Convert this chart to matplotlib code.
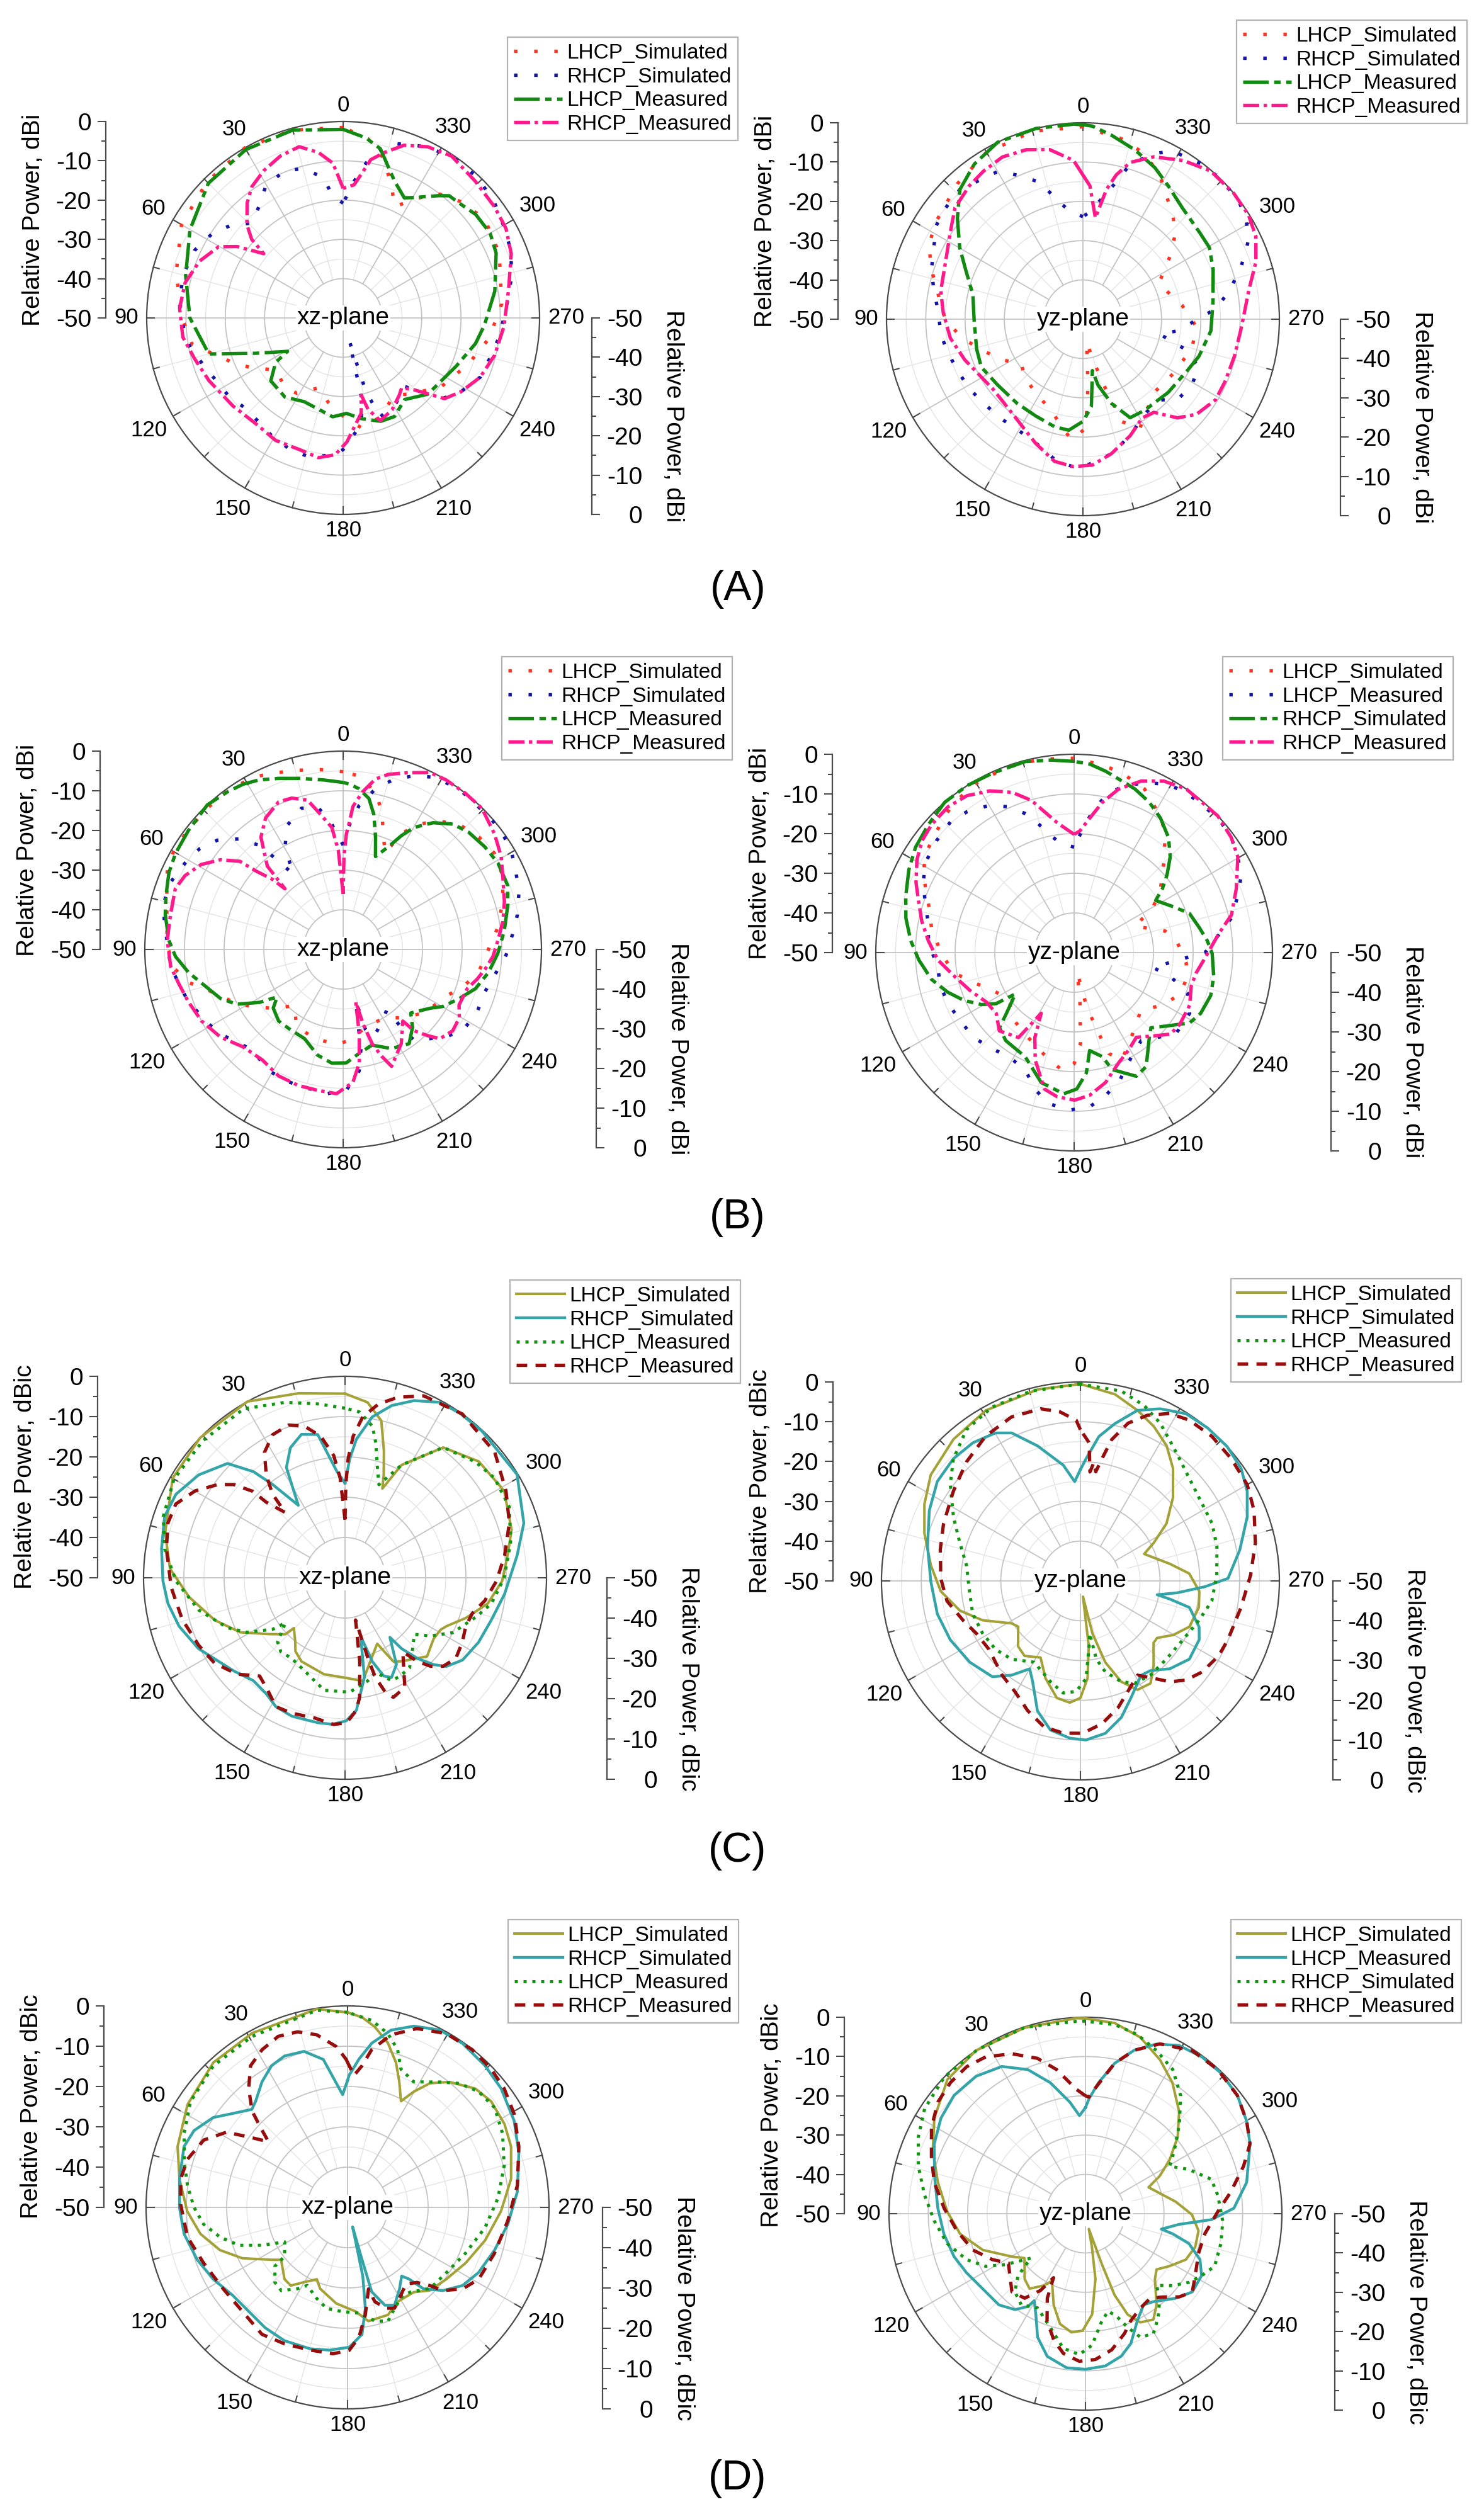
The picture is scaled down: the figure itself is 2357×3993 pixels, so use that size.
import numpy as np
import matplotlib
matplotlib.use("Agg")
import matplotlib.pyplot as plt
from matplotlib.lines import Line2D
from matplotlib.ticker import FixedLocator, FixedFormatter

plt.rcParams['font.family'] = ['Liberation Sans', 'DejaVu Sans']
plt.rcParams['axes.unicode_minus'] = False

W, H, DPI = 2357, 3993, 100

# ------------------------------------------------------------------
# DATA  (angle in degrees, relative power in dB)
# ------------------------------------------------------------------
LAB_STD = ['LHCP_Simulated', 'RHCP_Simulated', 'LHCP_Measured', 'RHCP_Measured']
LAB_ALT = ['LHCP_Simulated', 'LHCP_Measured', 'RHCP_Simulated', 'RHCP_Measured']
SECTION_LABELS = ['(A)', '(B)', '(C)', '(D)']
RADIAL_TICKS = [-50, -40, -30, -20, -10, 0]
ANGLE_TICKS = list(range(0, 360, 30))

# ---- (A) xz-plane ----
A_xz_lsim = [(0,-1.5),(15,-0.5),(30,0),(45,-1),(60,-2.5),(75,-6),(90,-9),(100,-11),(112,-19.7),
             (118.7,-23.5),(127.5,-28.3),(140,-27),(148.5,-27.5),(160.5,-31.1),(170,-28.2),(180,-25),
             (189.3,-21.7),(200,-23),(213.6,-26.4),(222,-24),(235,-19.5),(250,-16),(262,-12.5),(275,-9.5),
             (292.4,-7),(305,-6),(315,-8),(322,-10),(328,-14),(335.2,-18.8),(340,-14),(346,-8),(352,-4),(360,-1.5)]
A_xz_rsim = [(0,-20.8),(4.9,-18.8),(8.1,-13.9),(14.7,-10.7),(21.4,-9.7),(30.1,-10.9),(37.2,-14.5),(43.9,-16.5),
             (49.9,-13.2),(56.4,-10.5),(65.4,-8.5),(75.2,-7.8),(85.3,-8.2),(92.9,-9.2),(101.1,-10.3),(109.1,-12.6),
             (123.8,-14.7),(133.7,-16.2),(148.3,-15),(158,-13.9),(166.2,-13.6),(175.7,-15),(180,-16.5),(189.6,-22.5),
             (193,-28.8),(195,-44),(197.2,-30.4),(200.6,-23.1),(212,-24.5),(221.8,-26.7),(225.6,-23.2),(230.8,-17.5),
             (238,-14.6),(246.6,-12),(254.4,-11.3),(263,-10),(273.4,-8.4),(283,-6.1),(290.9,-4.2),(297.8,-3.1),
             (307.2,-1.6),(316.2,-0.5),(324.5,-0.5),(333.7,-1.4),(343.6,-3.7),(348.9,-7),(351.6,-10.2),(355.4,-15.1),(360,-20.8)]
A_xz_lmeas = [(0,-2),(15,-0.5),(30,-0.5),(45,-1.5),(60,-5),(75,-8.5),(90,-11),(105,-14.6),(112,-26),(121,-33.5),
              (123.4,-29.4),(131,-25.6),(143.7,-25),(155,-26.5),(174,-24.7),(182,-25.7),(190,-24),(200,-22),
              (207.5,-21.7),(217,-24),(228,-21),(247,-18.7),(259,-15.7),(267,-14),(280,-10.8),(293,-7.7),(300,-6.8),
              (308,-7.2),(316,-8.6),(319,-8.8),(322,-10.5),(329.7,-14.5),(333,-15.7),(339.4,-12.8),(347.6,-5.9),
              (352.8,-3.8),(360,-2)]
A_xz_rmeas = [(0,-17),(3.8,-10.5),(8.5,-7.4),(14.4,-5),(21.2,-5.8),(28.3,-7.4),(34.8,-9.3),(39.9,-11.9),(45.9,-15.9),
              (49.3,-19.3),(51,-24),(56,-17.5),(60.2,-13.5),(68.4,-10.7),(77.4,-8.8),(86.6,-8.3),(96.8,-8.9),
              (105.4,-10.8),(115,-12.3),(128.6,-14.1),(140.8,-15.1),(151.1,-14.4),(161.6,-14.7),(170,-13.9),
              (176.6,-15.1),(181.7,-18.4),(190.7,-25.3),(193.2,-29.8),(195.3,-25.8),(199.9,-22.2),(208,-23.5),
              (216,-25.7),(220,-26.8),(224.5,-24.4),(229.2,-19.9),(231.5,-17),(238,-14.6),(246.6,-12),(256.1,-10.3),
              (267,-9),(279.6,-7.3),(290.9,-4.2),(298.8,-2.7),(306.3,-2.2),(316,-1.6),(326.2,-0.4),(333.7,-1.4),
              (340.6,-3.4),(345.8,-6.5),(350.1,-9.1),(352.8,-13.1),(355.3,-16),(360,-17)]

# ---- (A) yz-plane ----
A_yz_lsim = [(0,-1),(15,-0.5),(30.3,-1),(42.9,-3),(57.9,-5.2),(65,-6.8),(71.7,-9.4),(77.8,-11.8),(90.3,-15),
             (98.9,-18.9),(107.6,-23.4),(116.8,-27),(125.7,-30.7),(135,-29),(147.1,-27.8),(160.6,-25.4),(174.4,-19.2),
             (181.2,-22.1),(183.4,-29.5),(186,-38.6),(188.5,-44.2),(196.9,-33.4),(199.5,-28.3),(200.4,-22.3),
             (207.4,-18.6),(224,-24),(238.6,-23.2),(254.8,-21.3),(266,-21),(277.9,-24.5),(295.1,-28.7),(306.3,-22.3),
             (313,-17.8),(319.2,-15),(332,-8.4),(339.7,-5),(348.1,-3),(360,-1)]
A_yz_rsim = [(0,-23.9),(7,-22.3),(12.8,-18.5),(17.3,-13.5),(24.7,-9.6),(30,-6.6),(43.5,-4.5),(50.9,-5),(57.5,-5.7),
             (64.3,-7.9),(71.7,-9.4),(79.3,-11.4),(87.4,-13.2),(96.1,-13.6),(103.9,-14.6),(112.3,-15.5),(121.5,-16.1),
             (130.2,-16.9),(140,-17.2),(151.5,-17.2),(161.5,-15.8),(169.6,-13.2),(178.2,-12),(185.7,-13.7),(191.9,-15),
             (202.1,-18),(213,-21.2),(223.3,-21.8),(229.6,-18.4),(238.8,-17.6),(247.5,-18.1),(253.7,-23),(259,-30.1),
             (263,-25.7),(274.4,-16.2),(280.9,-12),(288.7,-7.4),(295.5,-3.3),(301.7,-1.2),(307.3,-0.2),(316,0),
             (322.7,-0.3),(331.8,-1.5),(336.6,-4),(343,-8.7),(346.4,-14.1),(351.1,-18.9),(355.7,-22.4),(360,-23.9)]
A_yz_lmeas = [(0,-0.5),(2.8,-0.3),(13.8,0),(25.7,0),(35,-1.8),(43.5,-4.5),(51.2,-9),(59.8,-13.7),(66.9,-17.5),
              (77.4,-21.3),(90.4,-22.3),(105.6,-21.9),(115.2,-21.4),(127.7,-22.6),(141.8,-22.8),(153.9,-22.6),
              (165.2,-21.7),(172.7,-21.5),(180,-24),(185.5,-27.6),(190.4,-36.7),(192.9,-32.8),(198.7,-27.4),
              (205.6,-22.2),(214,-22),(229.3,-21.4),(243.7,-20.4),(252.3,-19),(264.8,-17.3),(277.6,-16.6),(291,-14.5),
              (299.6,-13),(306.4,-13),(318.3,-12),(327.4,-9.7),(334.6,-7.3),(343,-4.9),(351.2,-2.6),(357.2,-0.8),(360,-0.5)]
A_yz_rmeas = [(0,-13.3),(3.4,-9.5),(11.1,-6),(18.5,-4.5),(26.4,-3.9),(33.9,-4.6),(40.4,-5.4),(48.9,-6.8),(57,-9.7),
              (67.3,-12.1),(78.7,-13.1),(87.3,-14.4),(98.1,-15.9),(109,-18.2),(117.9,-20),(127.7,-21),(139.1,-20.5),
              (149.9,-18.8),(159.1,-16.2),(168.7,-13.1),(176.3,-12.4),(183.7,-12.8),(191.9,-15),(202.1,-18),(211,-20.7),
              (217.3,-20.2),(223.8,-15.2),(230.1,-12.3),(238.7,-10.5),(246.3,-10.5),(256.3,-10.3),(267.1,-9.6),
              (279.7,-7.2),(288.4,-3.6),(295.6,-1.2),(302.2,-0.2),(309.8,0),(319.2,-0.2),(327.7,-2.2),(336.4,-4.9),
              (343.2,-8.3),(347,-12.3),(349.7,-16.4),(353,-24),(357,-16),(360,-13.3)]

# ---- (B) xz-plane ----
B_xz_lsim = [(0,-5.2),(7.2,-4.3),(14.2,-3.4),(21,-2.3),(26.7,-1.2),(35,-0.5),(45,-0.5),(58.6,-0.4),(65.5,-1.3),
             (73,-3.5),(81,-5),(89.2,-5.7),(96.8,-7.4),(102,-10.1),(110.5,-17),(117.2,-19.8),(124.7,-24.3),(131,-27.4),
             (139.2,-31.3),(148.2,-27.6),(161,-26.4),(175.9,-26),(184,-27),(197.6,-29.8),(211.5,-29.8),(220.3,-27.4),
             (232,-24),(246.4,-21.2),(252.5,-18.4),(260.3,-15.4),(268.4,-13.8),(278.1,-10.6),(286.7,-8),(294.7,-5.7),
             (302.4,-4.8),(309.6,-5.6),(317.2,-7),(323.4,-9.7),(329.3,-13.3),(333.3,-17.4),(336.5,-23.5),(340.8,-19.2),
             (344.3,-13.9),(348.4,-9.5),(354.7,-6.1),(360,-5.2)]
B_xz_rsim = [(0,-23.7),(5.2,-18.3),(10.2,-13.4),(16.5,-12.9),(24.6,-15.8),(29.5,-20.3),(33.6,-27.2),(36.4,-21.9),
             (38.9,-16.3),(43,-11.9),(49,-8),(54.9,-5.8),(61.3,-4.6),(68.8,-3.3),(75,-3.3),(81.5,-4.4),(88.1,-5.7),
             (95.6,-6.3),(101.9,-7.7),(108.6,-8.8),(116,-10.7),(123.4,-12),(131,-14.4),(138.1,-15.9),(147.7,-14.2),
             (156.1,-13.8),(164.3,-13.9),(173.6,-13.4),(181.3,-14.5),(187.5,-19.1),(190,-24.3),(193.8,-36.8),
             (195.5,-29.2),(199.2,-26.6),(207,-29),(215.9,-31.2),(216.7,-25.5),(218,-20.9),(229.2,-16.2),(235.7,-13.6),
             (244.6,-12.7),(253.3,-12.7),(261.4,-11),(268,-8.9),(275.2,-7.1),(281.3,-5.2),(288,-3.4),(294.4,-2.2),
             (300.6,-0.8),(306.9,-0.2),(312.5,-0.3),(322.8,-0.2),(331.4,-0.6),(337.7,-2.7),(343.2,-5.1),(348.6,-8.7),
             (353.6,-13.4),(357,-18.4),(360,-23.7)]
B_xz_lmeas = [(0,-7.9),(6.5,-7),(13.8,-5.6),(20.7,-3.9),(26.3,-2.3),(31.2,-1.3),(36.4,-0.7),(43.2,0),(52.5,-0.8),
              (60.2,-1.3),(66.2,-2),(73,-3.3),(78.9,-4.3),(87,-6),(92.4,-7.7),(98.5,-10.6),(104.6,-13.9),(111.8,-16.7),
              (117.2,-19.8),(122.3,-25),(125.7,-29.5),(130,-27),(138,-25.7),(146.3,-25.8),(156.6,-25.5),(166.3,-22.6),
              (174.3,-21.2),(181.6,-21.4),(188.8,-23.5),(196.8,-24.8),(206,-22.2),(215,-21),(221.7,-23.7),(226.8,-26.6),
              (236,-23.5),(240.3,-21),(247.1,-18.2),(253.5,-15.2),(261,-12.9),(268.5,-11),(276.6,-9.1),(285.1,-7),
              (291.2,-5.5),(299.2,-5.3),(305.9,-5.9),(313,-6.7),(318.8,-8),(324.6,-10.8),(329.8,-14.4),(332.9,-17.8),
              (336.2,-21.7),(340.8,-25.2),(343.9,-20.5),(347.2,-15.1),(350.3,-11.4),(354.3,-9.3),(357.7,-8.3),(360,-7.9)]
B_xz_rmeas = [(0,-36),(2.8,-25),(5.3,-19.1),(9.5,-15.5),(13.4,-11.3),(18.8,-9.7),(23.6,-9.4),(30.5,-11.5),(36.2,-14.9),
              (42.3,-21.6),(43.8,-28.8),(45.3,-24.8),(48,-20.5),(49.5,-15.8),(53.8,-11.7),(59.1,-8.3),(65,-6),(70.1,-5),
              (78.6,-5.6),(87,-5.6),(95.6,-6.3),(101.9,-7.7),(108.6,-8.8),(116.8,-10),(125.6,-12),(134.3,-14.8),
              (143.8,-15.5),(153,-14.2),(161.6,-13.9),(169.6,-13.9),(177.4,-13.6),(184.2,-16.4),(188.1,-21.1),
              (190.8,-28.3),(193.5,-36.4),(195,-30.5),(197.1,-25.1),(199.9,-21.3),(202.5,-18.1),(211.7,-22.1),
              (219.8,-26.5),(221.1,-22.8),(224.3,-19.7),(227.3,-16.8),(233.4,-15.6),(239.5,-16),(244.4,-17.6),
              (252.4,-17.2),(257.5,-15.4),(262,-13.9),(267.3,-12.2),(273.4,-10.9),(280,-9.1),(286.5,-7.6),(293.7,-6),
              (300.4,-3.8),(307.3,-2),(315.5,-0.1),(322,0),(328.8,0),(333.8,-0.3),(340,-2.6),(345.5,-4.4),(349.3,-6.3),
              (353,-10),(356.1,-13.9),(357.1,-17.6),(358.4,-20.9),(359.5,-26.6),(360,-36)]

# ---- (B) yz-plane ----
B_yz_lsim = [(0,-1),(10,-0.5),(20,-0.3),(30.9,-0.6),(40,-1.8),(49.6,-3.9),(56.8,-5.1),(63.1,-7.4),(70.9,-11.1),
             (80.1,-13.5),(90.4,-16.5),(99.6,-19.3),(106.6,-23.6),(115.1,-27.4),(125.4,-29.9),(136.6,-27.3),(149,-26),
             (165,-22.8),(174.7,-20),(180,-22),(184,-27),(187,-38),(189,-45),(193,-36),(197,-28.5),(199,-23.1),
             (204,-20.4),(214,-24.2),(229.5,-27.8),(239.6,-23.8),(248.7,-21.4),(256.6,-20.9),(264.6,-21.6),(276.6,-24),
             (283.3,-26.4),(293.5,-33.3),(299.4,-27.3),(306.3,-23),(314.9,-18.1),(323.1,-11.7),(329.4,-8.7),(336.7,-5.1),
             (345.1,-3.1),(351.4,-2.2),(360,-1)]
B_yz_lmeas = [(0,-23.4),(7.1,-22.4),(13.6,-18),(18.4,-13.4),(24,-9.8),(29.8,-7.2),(37.2,-5.4),(43.2,-4.6),(50.9,-5.3),
              (59.1,-6.2),(65.1,-8.1),(71.2,-10.3),(79.1,-12.6),(86.6,-13.2),(95.8,-15.5),(103.2,-15.2),(112,-15.7),
              (121.2,-16.6),(130.2,-16.8),(139.8,-18.2),(148,-19),(157.3,-18),(164,-14.2),(170.1,-11.4),(178.6,-10.3),
              (185.7,-10.9),(192.5,-13.1),(200,-16),(208.8,-20),(217.3,-22.1),(224.5,-20),(232,-17.2),(242.3,-17.1),
              (250.1,-19.5),(255.6,-24.6),(259.5,-29.9),(263.4,-26.4),(270.3,-16.8),(282.4,-9.4),(289.2,-6.3),
              (294.6,-3.7),(300.3,-2.2),(306.2,-0.9),(313,-0.3),(325,-0.7),(331.1,-1.5),(337,-3.5),(343.5,-6.1),
              (348.6,-9.6),(352.5,-14.1),(355.8,-18.5),(360,-23.4)]
B_yz_rsim = [(0,-1.8),(6.9,-1.1),(14.4,-0.3),(24.3,-0.3),(32.7,0),(40.7,0),(48.7,-1.1),(56.4,-2),(63.4,-3.4),
             (71.3,-5.2),(78.4,-6.7),(85.8,-8.7),(92.7,-10.8),(100.6,-13.4),(107.4,-16.6),(113.4,-19.7),(119.3,-23.2),
             (123.2,-26.5),(125.1,-31.9),(132.3,-26.7),(135.2,-23.3),(142.2,-21.9),(154.8,-21),(165.8,-16.2),
             (175.8,-14.3),(181.1,-15.6),(185.8,-19.5),(189,-25),(195.2,-22.8),(198,-19),(206.7,-15.1),(212.3,-16),
             (221.5,-21.4),(225.6,-22.9),(231.6,-20.2),(238.7,-15.9),(244.4,-14.6),(252.6,-13.9),(260.4,-14.3),
             (269.6,-15.2),(275.1,-16.3),(281.2,-17.8),(288.8,-19.3),(294.7,-22.4),(302.6,-25.6),(305.8,-22.6),
             (310,-19.4),(314.9,-15.8),(320.6,-12.5),(327.3,-9.7),(333.5,-7.6),(339.6,-6),(344.4,-5.1),(350.1,-3.6),
             (355.3,-2.3),(360,-1.8)]
B_yz_rmeas = [(0,-20.2),(7.4,-17),(11.9,-13.7),(15.6,-10.2),(21.1,-6.7),(27.6,-4),(34.3,-2.1),(40.9,-1.4),(48.1,-1.7),
              (53.7,-2.4),(59.5,-4),(66.1,-6.4),(72,-8.8),(78.4,-10.8),(85.3,-13.1),(93.1,-15.6),(101.1,-19.2),
              (110.1,-22.1),(119.4,-24.6),(127.9,-25.1),(136.3,-22.7),(146.8,-24.4),(151.5,-32.6),(155.2,-26.4),
              (160.1,-21.2),(167.7,-14.8),(173.3,-13.4),(180.2,-12.8),(186.2,-13.8),(193.6,-16.3),(201.9,-20),
              (209,-21.8),(216.3,-23.5),(223.8,-20.9),(229.7,-18.2),(235.7,-17.8),(245.5,-18),(254.2,-19.3),
              (260.6,-18.8),(268.2,-16.8),(277.3,-13.3),(283.5,-9.2),(291.4,-6.1),(300.3,-2.2),(306.2,-0.9),
              (313.6,0),(325.5,0),(332.4,-1.2),(338.7,-3.6),(344.8,-7.3),(349.3,-11.4),(353.4,-15.9),(357.3,-19.3),(360,-20.2)]

# ---- (C) xz-plane ----
C_xz_lsim = [(0,-4.3),(14,-2.8),(29,0),(46,0),(60,-0.6),(76,-4),(87,-6.5),(97,-11),(108,-16),(117.5,-20.7),
             (126.7,-26.6),(133.4,-29.6),(134.5,-32.2),(141.8,-30),(146,-28),(152.5,-26.6),(167.7,-25.5),(180,-25.2),
             (189.8,-24),(195.6,-27.7),(206,-31.8),(210,-26),(214,-25),(226.2,-21.8),(235.4,-23.3),(241.5,-23),
             (244.5,-22.1),(251.6,-18.4),(259.8,-14),(268.8,-11),(277.8,-9.3),(286,-7),(298.6,-5),(311,-6),(323,-9.5),
             (333.4,-18.7),(337.3,-26),(339.4,-22.7),(343,-17),(347,-10),(352.7,-6.1),(360,-4.3)]
C_xz_rsim = [(0,-26.5),(4.3,-23.6),(10.8,-13.8),(16.9,-12.8),(22.8,-15),(28,-19),(32.8,-28.6),(37.8,-20.7),
             (40.8,-15.2),(45.8,-9.3),(54.9,-5.6),(63.7,-3.2),(71.2,-2.7),(81,-3.9),(91,-4.8),(98.3,-5.6),(106.3,-7.1),
             (115.8,-9.6),(130,-14),(138.3,-15.8),(145.8,-15.2),(151.8,-13.7),(159,-13.2),(169.3,-13.4),(175,-13.5),
             (180.5,-14.5),(184.9,-17),(191,-24.8),(195,-35),(198,-28.2),(201.5,-23.8),(205,-22.7),(210.7,-25),
             (217,-31.5),(218.6,-27.5),(222,-23),(225.6,-19.2),(228.8,-16.6),(235,-14.4),(244.2,-13.2),(254,-12.2),
             (264.2,-10.2),(277.5,-6.9),(287,-3.6),(301,-0.2),(317,-0.2),(325,-0.2),(331.6,-0.5),(338.7,-2.8),
             (344.8,-5.7),(350.4,-9.5),(355.3,-15.5),(357.7,-20.4),(360,-26.5)]
C_xz_lmeas = [(0,-7.9),(9,-6.3),(18.8,-4),(31,-1.1),(46,-1),(60,-1),(71.4,-2.4),(81,-4.7),(91,-8),(102.4,-12.8),
              (113,-18.3),(119,-22.1),(125.5,-28),(127,-31.5),(133.6,-26.9),(139,-25.7),(146.6,-26),(156.6,-24.8),
              (169.5,-21.6),(182.4,-21.6),(192.4,-23.8),(197.9,-25.3),(204.4,-22),(209,-22),(215.6,-22.5),
              (223.7,-25.7),(230.8,-27.8),(235.7,-24.4),(243,-20),(253.5,-16),(260,-13.1),(270,-10.5),(282,-8),
              (293.3,-5.6),(303.7,-5.4),(311.6,-6.7),(323,-9.5),(333.4,-18.7),(340,-25.4),(344,-21),(347.2,-15.6),
              (349.7,-11.8),(355,-8.7),(360,-7.9)]
C_xz_rmeas = [(0,-35.6),(2.8,-25.2),(5.3,-19.5),(9.7,-14.4),(14.9,-11.1),(20.2,-9.6),(26.8,-10.2),(32.7,-13),
              (37.4,-17.8),(40.9,-22.5),(42.5,-28),(46.2,-22.9),(46.8,-18.7),(50,-14),(53.7,-10.9),(59.9,-7),(66.4,-4.2),
              (72.8,-4),(80.8,-5.1),(93.2,-6.8),(104.4,-8.3),(114.7,-10),(123.2,-11.3),(131.8,-14.1),(139,-17.7),
              (145.6,-16.1),(151.8,-13.7),(158.5,-13.9),(167.7,-14.4),(175.6,-13.5),(180.6,-14),(184.9,-17),(187,-20.2),
              (190,-29),(194,-39.2),(196,-28.4),(197,-24.1),(199.4,-19.9),(202,-18),(208.6,-19),(218,-26.7),
              (220.9,-22.5),(224,-19.5),(228,-17.2),(234,-16),(241.3,-16.8),(248,-17.7),(254.4,-17.2),(260.8,-14.8),
              (268.8,-12.4),(278,-10),(288.5,-7),(298.4,-4.6),(310,-1.5),(324.4,0),(336.6,-0.8),(343.6,-3.3),(349,-6),
              (353.7,-9.8),(356.7,-14.8),(358.5,-20.4),(359.5,-26.8),(360,-35.6)]

# ---- (C) yz-plane ----
C_yz_lsim = [(0,-0.5),(12.6,-0.7),(29,-1),(41.9,-2.2),(54.7,-3.9),(63.8,-6.3),(73,-9),(84,-12.2),(94.2,-14.8),
             (103.8,-18.8),(111.9,-23.5),(121.7,-29.7),(126.3,-30.6),(136.3,-27.3),(143.3,-26.5),(152.5,-28.3),
             (160.3,-24),(168.6,-20),(175,-19.3),(180,-20.6),(184.2,-25.5),(187.3,-33.5),(189.3,-46),(192.9,-36.5),
             (197,-28.6),(202,-22.7),(207.7,-19.1),(214.4,-18.8),(220.9,-21.9),(229.7,-25.9),(233.3,-26),(239.8,-23),
             (247.2,-20.3),(257.4,-19.5),(265,-20),(273.9,-22.6),(280.8,-27.1),(292.9,-32.6),(297.5,-29.2),
             (303.7,-24),(312,-18.7),(320.5,-13.4),(327.5,-9.7),(334.6,-7),(341.5,-4.8),(349.5,-2.3),(360,-0.5)]
C_yz_rsim = [(0,-22),(3.3,-25),(8.4,-20.6),(17.6,-14.4),(24.9,-9),(29.9,-7.1),(37.9,-6),(46.1,-5.7),(55.2,-6.2),
             (65,-8.1),(77.2,-10.6),(90.2,-12.4),(103,-13.1),(114.3,-14.1),(126.3,-15.5),(137.4,-17.3),(143.9,-20.7),
             (150,-24.5),(154.6,-22),(161.7,-15.6),(168.6,-11.8),(176.1,-10.4),(182,-10),(189.3,-11.2),(196.7,-14.2),
             (203.4,-18),(212.7,-21.8),(218,-21.4),(225.5,-18.5),(234.3,-16.3),(243.7,-16.7),(248.8,-18),(256.3,-21.8),
             (258.5,-27),(259.8,-30.4),(263,-25.5),(267.4,-18.6),(271,-12.9),(281,-9.2),(291,-5.1),(298.3,-2.4),
             (305,-0.7),(312.5,0),(320.3,0),(327.7,-0.3),(335.1,-2.3),(341.5,-4.8),(347.6,-9.5),(352.7,-13.4),
             (357.4,-19.3),(360,-22)]
C_yz_lmeas = [(0,-0.5),(14.6,-0.7),(26.9,-1),(37,-2.4),(46.1,-5.7),(53.5,-9.3),(63.3,-14.3),(72.4,-18.2),(82.2,-21.1),
              (95.3,-22),(107,-21.7),(118.1,-22.1),(128.9,-22.6),(138.6,-23.8),(150.4,-26.5),(163.4,-23.6),(171.3,-21.5),
              (177.8,-22.2),(183.3,-25.4),(187.6,-33.5),(190,-36.6),(191.5,-30),(195.3,-26.3),(202,-22.7),(207.8,-20.9),
              (216.6,-20.5),(227.8,-20.8),(240.2,-20.3),(251.6,-18.6),(261.3,-16.6),(272.4,-15.7),(284.3,-14.6),
              (293.6,-13.9),(302.2,-13.8),(313.3,-12.4),(323.3,-9.7),(333.1,-5.6),(340,-3.1),(347.8,-1.2),(360,-0.5)]
C_yz_rmeas = [(0,-12),(1.5,-9.6),(6.9,-7.2),(13,-5.6),(22.8,-5.3),(33.2,-6.5),(43.8,-8.6),(54.7,-10.9),(67.2,-12.7),
              (77.3,-13.9),(89,-14.9),(98.6,-16.1),(108.6,-18.9),(116.7,-20.7),(126.8,-21.3),(140.3,-19.2),
              (149.3,-17.7),(157.9,-14.8),(166,-12.2),(173.6,-11.5),(180.8,-11.7),(188.6,-13.7),(196.6,-16.8),
              (203.3,-19.8),(211.2,-22.3),(216.9,-19.4),(221.6,-16.1),(226.8,-13.6),(233.2,-11.8),(241.5,-10.5),
              (248.3,-10.1),(260.6,-9.1),(272,-7.2),(282.3,-5),(292.1,-2.9),(300,-1.6),(309,-1.2),(317.7,-0.9),
              (325.9,-1.2),(331.9,-2.3),(338,-5.1),(343.2,-8.6),(347.5,-13.6),(350,-18.8),(352,-22.3),(353.5,-20),
              (355,-22.5),(356.4,-15.2),(360,-12)]

# ---- (D) xz-plane ----
D_xz_lsim = [(0,-1.6),(8.8,-0.2),(28.7,-0.7),(42.8,-1),(57.3,-2.8),(70.3,-5.2),(80.4,-7.7),(91.4,-10.2),
             (100.2,-12.9),(108.5,-16.6),(115.8,-21),(124.6,-27.1),(128.3,-29),(138.7,-26.3),(144,-26),(149.7,-28.5),
             (156.9,-30.6),(161.4,-28.7),(173.3,-26),(184.4,-24.1),(190.4,-21.3),(200.6,-21.5),(208,-23.5),(218,-23.3),
             (224.7,-21),(234,-19.7),(244.8,-17.6),(256.5,-14.9),(268.6,-11.9),(279.9,-8.8),(290.4,-6.7),(298,-5.9),
             (306.4,-5.7),(312.9,-6.7),(320.9,-9.9),(326.4,-13),(330.2,-16.9),(333.3,-20.5),(337.6,-16.3),
             (341.5,-12.1),(346.2,-8),(351.4,-4.7),(355.6,-2.7),(360,-1.6)]
D_xz_rsim = [(0,-18.5),(2.5,-22),(9.3,-12.8),(15.6,-9.8),(22.6,-9.3),(28.2,-10.1),(34.3,-12.3),(41,-15.2),(44.3,-16),
             (49.7,-13.7),(56.2,-9.9),(63.4,-7.4),(69.6,-6.7),(80.4,-7.7),(90.2,-8.3),(99.2,-8.9),(109.2,-10.5),
             (118.1,-12.2),(127.5,-14.1),(136.5,-14.4),(145.6,-13.8),(154.7,-13.4),(165.2,-13.7),(172.9,-14.3),
             (180.7,-15.3),(186.5,-18.3),(190,-24.6),(192.5,-32.5),(193.3,-40.8),(194.5,-45),(195.5,-36.5),(196,-28.2),
             (200.9,-24),(205.7,-23.1),(212.5,-26),(218.2,-28.3),(220.6,-26.6),(223,-22.4),(228.9,-18.6),(235.8,-15.5),
             (243.5,-13.7),(253.8,-12),(264,-10),(275.2,-7.7),(287.6,-5.4),(297.5,-3.4),(307.8,-1.8),(315.9,-1),
             (325,-0.3),(332.6,-0.4),(339.9,-2.1),(346.2,-4.7),(351.6,-8.8),(355.6,-13.1),(359.3,-17.2),(360,-18.5)]
D_xz_lmeas = [(0,-1.6),(8.8,-0.5),(29.2,-1.4),(43.5,-1.6),(56,-3),(65.7,-5.5),(74.7,-8),(82.2,-9.9),(90,-11.9),
              (96.6,-14),(103.1,-17.5),(109.3,-21.5),(113.9,-26.8),(118.8,-32.2),(127.9,-30.2),(129,-26.8),
              (135.9,-24.1),(141.5,-23.6),(148.4,-26.3),(152.7,-28.2),(161.5,-26.1),(168.3,-24.4),(177.3,-24.1),
              (186.1,-23.6),(193.5,-21),(199.5,-20),(205,-22.4),(212,-24.2),(216.7,-23.8),(225.4,-21.3),(236.5,-20.6),
              (248.7,-18.6),(261.7,-15.5),(273.5,-12.6),(284.8,-9.8),(295.4,-7.4),(304.1,-5.9),(311.5,-6.6),(318,-8.6),
              (323.7,-11.4),(332.2,-14.8),(338.9,-13.2),(342.4,-8.9),(347,-5.7),(352.6,-3.2),(360,-1.6)]
D_xz_rmeas = [(0,-14),(0.6,-13.2),(4,-10),(10.1,-6.5),(15.9,-4.7),(22.1,-4.2),(28.5,-5.5),(34.4,-7.4),(39.7,-11.6),
              (44.7,-16.3),(47.4,-20.6),(50.3,-24.5),(54.5,-19.9),(58.2,-14.6),(64.9,-10.6),(73.3,-8.5),(80.3,-8),
              (89.1,-8.6),(100.5,-9.6),(111.1,-11.7),(123.2,-13.1),(134.7,-13.3),(146,-12),(155.2,-12.7),(165.4,-13.4),
              (174.3,-13.5),(180.6,-14.5),(185,-17.6),(189.4,-23),(194.4,-29.1),(196.2,-25.6),(201,-23.2),(205,-22.4),
              (211.2,-24.5),(217.3,-26.1),(222.8,-24.6),(226.5,-21.8),(228.9,-18.6),(234.7,-15),(241.3,-12.9),
              (252.6,-11.8),(265.2,-10.1),(277.4,-7.5),(289.5,-4.9),(299.2,-2.6),(307.2,-1.2),(313.9,-0.5),
              (321.7,-0.1),(330.4,-0.4),(338.8,-2.4),(345.8,-5.8),(351.3,-10.4),(354.2,-14.7),(357.2,-17.2),(360,-14)]

# ---- (D) yz-plane ----
D_yz_lsim = [(0,-0.3),(2.7,-0.2),(18.1,-0.2),(33.8,0),(45.8,-1),(57.7,-4.5),(67.4,-7.9),(78,-11.6),(89.1,-14.8),
             (99.2,-17.7),(109.5,-22.3),(120.2,-28.3),(126.1,-30.8),(137,-27.3),(143.3,-26.2),(150,-28.9),(153.5,-30.9),
             (160.8,-25.4),(167,-21.2),(173.2,-19.6),(178.6,-20.2),(183.8,-24.3),(188.7,-33.2),(191,-41.4),(192.5,-46),
             (198,-36.5),(199.7,-28),(202.7,-22.2),(206.8,-19),(212.7,-18),(218,-20.6),(226.7,-25.7),(231.9,-27),
             (238,-24.8),(245.4,-21.9),(253.2,-20.8),(261.4,-20.9),(269.5,-22.9),(277.5,-26.8),(292.7,-32.6),
             (296.9,-28.8),(302.6,-24.6),(309.7,-19.5),(317.5,-14.7),(326.4,-10),(334.1,-6.5),(342.7,-3),(351.3,-0.9),(360,-0.3)]
D_yz_lmeas = [(0,-23),(3.5,-25),(8,-21.3),(15,-15.5),(21.8,-10.5),(29.6,-6.9),(38.5,-5.3),(48,-5),(56.5,-5.9),
              (65.2,-7.6),(76,-10.4),(87.9,-12.4),(98.2,-13.6),(108,-14.8),(116.4,-16.2),(126.1,-17.6),(136.5,-18),
              (143.7,-19.7),(148.2,-22.2),(149.5,-24.3),(153.8,-21.4),(158.8,-16.3),(165,-12.4),(173,-10.5),(180,-10.4),
              (187.4,-10.9),(194.1,-12.6),(199.3,-15),(205.8,-19.7),(212.6,-22.5),(217.7,-21.7),(226.9,-18.5),
              (233.8,-16.3),(241.9,-16.5),(248.2,-18.6),(253.9,-22.6),(257,-27.2),(258.5,-30.3),(263.5,-26),
              (267.3,-17.9),(272.1,-12.2),(281,-8.2),(293,-4.5),(299.8,-2.7),(307.9,-1),(316,-0.3),(323.4,-0.3),
              (330.9,-1),(337.3,-3.2),(343.4,-6.6),(349,-11),(354.3,-16.5),(358.2,-20.7),(360,-23)]
D_yz_rsim = [(0,-1),(2.8,-1),(18,-0.1),(33.3,0),(45.8,0),(56.8,-1.1),(65.4,-3.2),(74.2,-5.8),(83.5,-8.8),(92.8,-11.5),
             (102.2,-14),(111.2,-17.6),(117.8,-21.3),(122.4,-25.8),(129.2,-32.1),(132.6,-26.7),(137.9,-23.2),
             (144.9,-21.6),(153,-23.1),(162.8,-19.7),(170.6,-15.3),(177.5,-14.1),(182.9,-16.5),(188.7,-22.4),
             (193.1,-24.5),(196.8,-22.8),(200.4,-19.1),(204,-15.6),(209.5,-14.9),(214.9,-17.7),(221.3,-21.3),
             (224.7,-24.3),(230.5,-21.2),(236.4,-18.4),(241.9,-16.5),(247.9,-14.5),(257.6,-14.7),(266.9,-15),
             (277.9,-16),(285.3,-16.8),(293.2,-21.4),(299.4,-25.4),(305.5,-22.2),(313.6,-17),(321.1,-11.4),
             (328.8,-7.1),(336.5,-4.7),(343.9,-2.5),(351.2,-1.3),(360,-1)]
D_yz_rmeas = [(0,-20),(4.3,-18.2),(11.3,-12.6),(17.2,-8.6),(24.7,-5.2),(32.4,-2.7),(38.9,-1.9),(45.8,-2.1),(52.9,-2.9),
              (60.8,-5.1),(69.7,-8.2),(78.3,-10.7),(87.8,-14),(97.6,-17),(107.9,-19.9),(116.3,-23.6),(122.6,-26.7),
              (129.5,-25.1),(136.7,-22.7),(144.3,-23.5),(149.7,-27.4),(153.5,-31.8),(155.7,-26.4),(160.3,-21),(166,-16.8),
              (171,-14),(177.6,-12.4),(183.9,-12.8),(190.9,-14.7),(198,-17.9),(202.9,-20.4),(210.3,-22.2),(217.4,-22.9),
              (223,-21),(228.4,-18.1),(233.8,-16.3),(240.5,-17.9),(250.6,-19.5),(260.4,-19.2),(270.9,-16.3),
              (278.5,-12.6),(286.7,-8),(293,-4.5),(299.8,-2.7),(307.9,-1),(317.4,-0.2),(326.8,-0.4),(336.3,-2.8),
              (343.4,-6.6),(349,-11),(353,-15.6),(356.8,-19),(358.3,-20.3),(360,-20)]

# ------------------------------------------------------------------
# STYLES
# ------------------------------------------------------------------
STY_AB = [
    dict(color='#ff3322', lw=3.9, dashes=(1.0, 4.9)),
    dict(color='#1414a8', lw=3.9, dashes=(1.0, 4.9)),
    dict(color='#128a12', lw=3.9, dashes=(7.5, 1.6, 1.9, 1.6)),
    dict(color='#ff1a8c', lw=3.9, dashes=(4.7, 1.3, 1.0, 1.3)),
]
STY_CD = [
    dict(color='#a4a136', lw=2.9, ls='-'),
    dict(color='#33a4a7', lw=3.2, ls='-'),
    dict(color='#119611', lw=3.6, dashes=(1.0, 1.8)),
    dict(color='#960d0d', lw=3.8, dashes=(3.2, 2.5)),
]

PANELS = [
    dict(cx=545, cy=505, R=312, plane='xz-plane', unit='dBi', xl=168, xr=940, leg=(806, 59),
         labels=LAB_STD, styles=STY_AB, data=[A_xz_lsim, A_xz_rsim, A_xz_lmeas, A_xz_rmeas]),
    dict(cx=1720, cy=507, R=312, plane='yz-plane', unit='dBi', xl=1331, xr=2129, leg=(1964, 32),
         labels=LAB_STD, styles=STY_AB, data=[A_yz_lsim, A_yz_rsim, A_yz_lmeas, A_yz_rmeas]),
    dict(cx=545, cy=1508, R=315, plane='xz-plane', unit='dBi', xl=159, xr=947, leg=(797, 1043),
         labels=LAB_STD, styles=STY_AB, data=[B_xz_lsim, B_xz_rsim, B_xz_lmeas, B_xz_rmeas]),
    dict(cx=1706, cy=1513, R=315, plane='yz-plane', unit='dBi', xl=1322, xr=2114, leg=(1942, 1043),
         labels=LAB_ALT, styles=STY_AB, data=[B_yz_lsim, B_yz_lmeas, B_yz_rsim, B_yz_rmeas]),
    dict(cx=548, cy=2506, R=320, plane='xz-plane', unit='dBic', xl=155, xr=964, leg=(810, 2033),
         labels=LAB_STD, styles=STY_CD, data=[C_xz_lsim, C_xz_rsim, C_xz_lmeas, C_xz_rmeas]),
    dict(cx=1716, cy=2511, R=316, plane='yz-plane', unit='dBic', xl=1323, xr=2117, leg=(1955, 2031),
         labels=LAB_STD, styles=STY_CD, data=[C_yz_lsim, C_yz_rsim, C_yz_lmeas, C_yz_rmeas]),
    dict(cx=552, cy=3506, R=320, plane='xz-plane', unit='dBic', xl=165, xr=957, leg=(807, 3049),
         labels=LAB_STD, styles=STY_CD, data=[D_xz_lsim, D_xz_rsim, D_xz_lmeas, D_xz_rmeas]),
    dict(cx=1724, cy=3516, R=312, plane='yz-plane', unit='dBic', xl=1341, xr=2120, leg=(1955, 3049),
         labels=LAB_ALT, styles=STY_CD, data=[D_yz_lsim, D_yz_lmeas, D_yz_rsim, D_yz_rmeas]),
]
SECTION_POS = [(1172, 936), (1171, 1934), (1171, 2940), (1171, 3937)]

# ------------------------------------------------------------------
fig = plt.figure(figsize=(W / DPI, H / DPI), dpi=DPI)
PT = 72.0 / DPI  # points per pixel


def rect(x0, y0, w, h):
    return [x0 / W, 1 - (y0 + h) / H, w / W, h / H]


GRID_MAJ = '#c4c4c4'
GRID_MIN = '#e4e4e4'
AXCOL = '#4a4a4a'
FS_ANG = 25
FS_TICK = 28
FS_LAB = 28


def draw_panel(p):
    cx, cy, R = p['cx'], p['cy'], p['R']
    ax = fig.add_axes(rect(cx - R, cy - R, 2 * R, 2 * R), projection='polar')
    ax.set_theta_zero_location('N')
    ax.set_theta_direction(1)
    ax.set_ylim(-50, 0)
    ax.set_xticks([])
    ax.set_yticks([])
    ax.grid(False)
    ax.spines['polar'].set_color(AXCOL)
    ax.spines['polar'].set_linewidth(1.6)

    th = np.linspace(0, 2 * np.pi, 721)
    for r in (-35, -25, -15, -5):
        ax.plot(th, np.full_like(th, r), color=GRID_MIN, lw=1.0, zorder=1)
    for r in RADIAL_TICKS[1:-1]:
        ax.plot(th, np.full_like(th, r), color=GRID_MAJ, lw=1.3, zorder=1.2)
    for a in range(15, 360, 30):
        t = np.deg2rad(a)
        ax.plot([t, t], [-40, 0], color=GRID_MIN, lw=1.0, zorder=1)
    for a in ANGLE_TICKS:
        t = np.deg2rad(a)
        r0 = -50 if a % 90 == 0 else -40
        ax.plot([t, t], [r0, 0], color=GRID_MAJ, lw=1.3, zorder=1.2)
    for a in range(0, 360, 15):
        t = np.deg2rad(a)
        L = 2.0 if a % 30 == 0 else 1.5
        ax.plot([t, t], [-L, 0], color=AXCOL, lw=1.5, zorder=2, clip_on=False)

    # angular labels
    fpx = FS_ANG / PT
    gap = 13.0
    for a in ANGLE_TICKS:
        s = str(a)
        w = len(s) * 0.556 * fpx
        h = 0.72 * fpx
        ar = np.deg2rad(a)
        ext = abs(np.sin(ar)) * w / 2 + abs(np.cos(ar)) * h / 2
        dist = R + gap + ext
        rr = -50 + 50 * dist / R
        ax.text(ar, rr, s, ha='center', va='center', fontsize=FS_ANG, clip_on=False)

    ax.text(0, -50, p['plane'], ha='center', va='center', fontsize=FS_LAB, zorder=3,
            bbox=dict(facecolor='white', edgecolor='none', pad=1.5))

    handles = []
    for data, sty in zip(p['data'], p['styles']):
        deg = np.array([d[0] for d in data], dtype=float)
        val = np.array([d[1] for d in data], dtype=float)
        kw = dict(color=sty['color'], lw=sty['lw'], zorder=5, clip_on=False)
        if 'dashes' in sty:
            kw['dashes'] = sty['dashes']
        else:
            kw['ls'] = sty['ls']
        ax.plot(np.deg2rad(deg), np.minimum(val, 0), **kw)
        hk = dict(color=sty['color'], lw=sty['lw'])
        if 'dashes' in sty:
            hk['dashes'] = sty['dashes']
        handles.append(Line2D([], [], **hk))

    # legend
    lx, ly = p['leg']
    leg = fig.legend(handles, p['labels'], loc='upper left', bbox_to_anchor=(lx / W, 1 - ly / H),
                     bbox_transform=fig.transFigure, frameon=True, fancybox=False, edgecolor='#a0a0a0',
                     fontsize=24, handlelength=2.3, handletextpad=0.22, labelspacing=0.2,
                     borderpad=0.3, borderaxespad=0.0)
    leg.get_frame().set_linewidth(1.6)

    # left radial scale
    labels_txt = [str(v) for v in RADIAL_TICKS]
    axl = fig.add_axes(rect(p['xl'], cy - R, 1, R))
    axl.set_ylim(-50, 0)
    axl.set_xticks([])
    for s in ('top', 'right', 'bottom'):
        axl.spines[s].set_visible(False)
    axl.spines['left'].set_color(AXCOL)
    axl.spines['left'].set_linewidth(1.6)
    axl.yaxis.set_major_locator(FixedLocator(RADIAL_TICKS))
    axl.yaxis.set_major_formatter(FixedFormatter(labels_txt))
    axl.yaxis.set_minor_locator(FixedLocator([-45, -35, -25, -15, -5]))
    axl.tick_params(axis='y', which='major', direction='out', length=9.5, width=1.5, color=AXCOL,
                    labelsize=FS_TICK, pad=7)
    axl.tick_params(axis='y', which='minor', direction='out', length=5, width=1.5, color=AXCOL)
    axl.patch.set_visible(False)
    fig.text((p['xl'] - 115) / W, 1 - (cy - R / 2) / H, 'Relative Power, ' + p['unit'],
             rotation=90, ha='center', va='center', fontsize=FS_LAB)

    # right radial scale
    axr = fig.add_axes(rect(p['xr'] - 1, cy, 1, R))
    axr.set_ylim(0, -50)
    axr.set_xticks([])
    for s in ('top', 'left', 'bottom'):
        axr.spines[s].set_visible(False)
    axr.spines['right'].set_color(AXCOL)
    axr.spines['right'].set_linewidth(1.6)
    axr.yaxis.tick_right()
    axr.yaxis.set_major_locator(FixedLocator(RADIAL_TICKS))
    axr.yaxis.set_major_formatter(FixedFormatter(labels_txt))
    axr.yaxis.set_minor_locator(FixedLocator([-45, -35, -25, -15, -5]))
    axr.tick_params(axis='y', which='major', direction='out', length=9.5, width=1.5, color=AXCOL,
                    labelsize=FS_TICK, pad=80 * PT - 9.5)
    axr.tick_params(axis='y', which='minor', direction='out', length=5, width=1.5, color=AXCOL)
    for tl in axr.get_yticklabels():
        tl.set_horizontalalignment('right')
    axr.patch.set_visible(False)
    fig.text((p['xr'] + 129) / W, 1 - (cy + R / 2) / H, 'Relative Power, ' + p['unit'],
             rotation=-90, ha='center', va='center', fontsize=FS_LAB)


for p in PANELS:
    draw_panel(p)

for lab, (x, y) in zip(SECTION_LABELS, SECTION_POS):
    fig.text(x / W, 1 - y / H, lab, ha='center', va='center', fontsize=48)

fig.savefig('out.png', dpi=DPI, facecolor='white')
